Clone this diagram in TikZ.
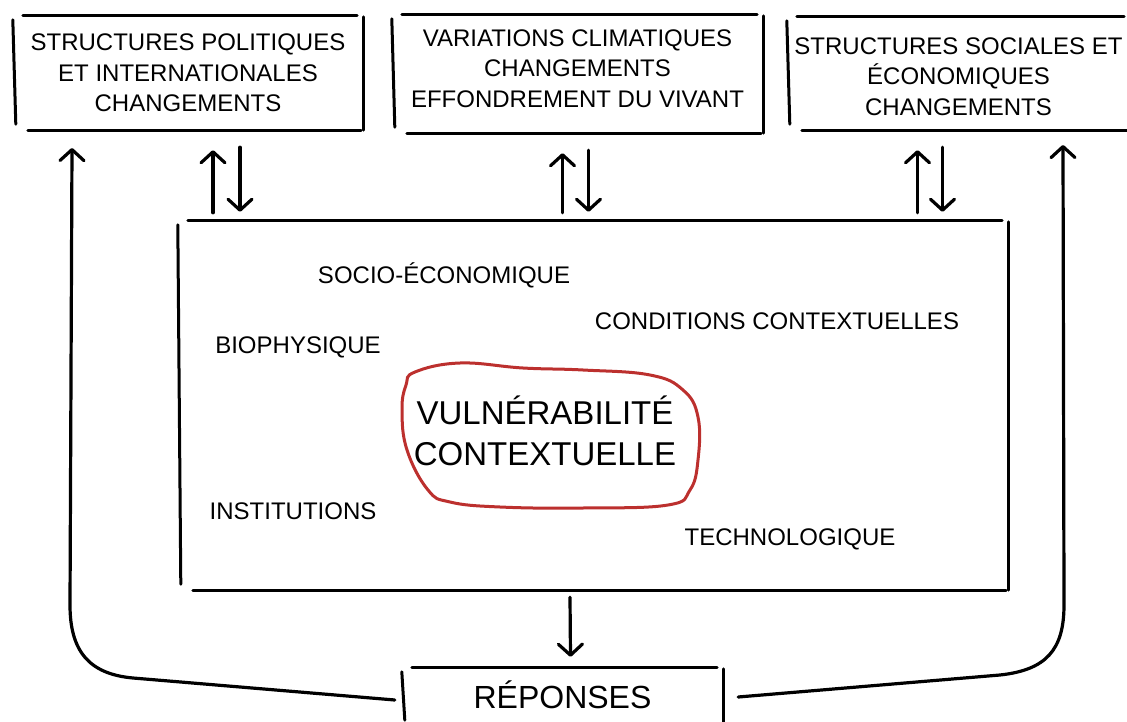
\documentclass[tikz,border=0pt]{standalone}
\usepackage{fontspec}
\setmainfont{Liberation Sans}
\usepackage{tikz}
\usetikzlibrary{arrows.meta,calc,positioning}
\definecolor{blobred}{RGB}{188,48,46}

\begin{document}
\begin{tikzpicture}[x=1pt,y=-1pt,
  box/.style={inner sep=0pt,align=center,font=\fontsize{24}{30.5}\selectfont},
  lbl/.style={inner sep=0pt,font=\fontsize{24}{30}\selectfont,text height=17pt,text depth=0pt},
  sketch/.style={line width=3pt,line cap=round},
  arr/.style={line width=3.2pt,line cap=round,-{Straight Barb[length=11pt,width=24pt,round]}},
  blob/.style={draw=blobred,line width=3pt}]
\useasboundingbox (0,0) rectangle (1127,722);
\clip (0,0) rectangle (1127,722);
%Kaesten oben, in Pixeln der Vorlage
\node[box,minimum width=350pt,minimum height=114pt] (pol) at (188,73) {STRUCTURES POLITIQUES\\ET INTERNATIONALES\\CHANGEMENTS};
\node[box,minimum width=371pt,minimum height=118pt] (clim) at (577.5,74) {VARIATIONS CLIMATIQUES\\CHANGEMENTS\\EFFONDREMENT DU VIVANT\rule[-11pt]{0pt}{11pt}};
\node[box,minimum width=343pt,minimum height=113pt] (soc) at (958.5,73.5) {\rule{0pt}{23pt}STRUCTURES SOCIALES ET\\ÉCONOMIQUES\\CHANGEMENTS};
\node[box,minimum width=830pt,minimum height=369pt] (ctx) at (593,405.5) {};
\node[box,minimum width=321pt,minimum height=58pt,font=\fontsize{32}{38}\selectfont,text height=23pt,text depth=0pt] (rep) at (562.5,697) {RÉPONSES};
%Beschriftungen im grossen Kasten
\node[lbl] (socio) at (444,275) {SOCIO-ÉCONOMIQUE};
\node[lbl] (cond) at (777,321) {CONDITIONS CONTEXTUELLES};
\node[lbl] (bio) at (298,345) {BIOPHYSIQUE};
\node[lbl] (inst) at (293,511) {INSTITUTIONS};
\node[lbl] (tech) at (790,537) {TECHNOLOGIQUE};
\node[box,font=\fontsize{33}{41}\selectfont] (vuln) at (545,431) {VULNÉRABILITÉ\\CONTEXTUELLE};
\draw[blob] plot[smooth cycle,tension=0.7] coordinates {(415,372) (460,363) (523,368) (583,370) (650,375) (683,390) (698,417) (698,460) (690,490) (668,505) (583,508) (500,507) (450,502) (428,490) (407,450) (402,410) (406,385)};
%Raender wie von Hand
\foreach \b in {pol,clim,soc,ctx,rep}{
  \draw[sketch] ([xshift=10pt]\b.north west) -- ([xshift=-6pt]\b.north east);
  \draw[sketch] ([yshift=-4pt]\b.north west) -- ([xshift=3pt,yshift=6pt]\b.south west);
  \draw[sketch] ([xshift=15pt]\b.south west) -- ([xshift=-2pt]\b.south east);
  \draw[sketch] ([yshift=-1pt]\b.north east) -- (\b.south east);
}
%Doppelpfeile
\foreach \b/\u/\d in {pol/25/52,clim/-15/11,soc/-41/-16}{
  \draw[arr] ($(\b.south |- ctx.north)+(\u,-8)$) -- ($(\b.south)+(\u,20)$);
  \draw[arr] ($(\b.south)+(\d,17)$) -- ($(\b.south |- ctx.north)+(\d,-9)$);
}
\draw[arr] ($(ctx.south)+(-23,7)$) -- ($(rep.north)+(8,-11)$);
%Rueckkopplung
\coordinate (lt) at (72,148);
\coordinate (rt) at (1063,145);
\draw[arr] ([xshift=-7pt,yshift=-3pt]rep.west) -- (133,678) .. controls (88,674) and (70,650) .. (70,605) -- (lt);
\draw[arr] ([xshift=15pt]rep.east) -- (1000,675) .. controls (1046,670) and (1064,650) .. (1064,605) -- (rt);
\end{tikzpicture}
\end{document}
